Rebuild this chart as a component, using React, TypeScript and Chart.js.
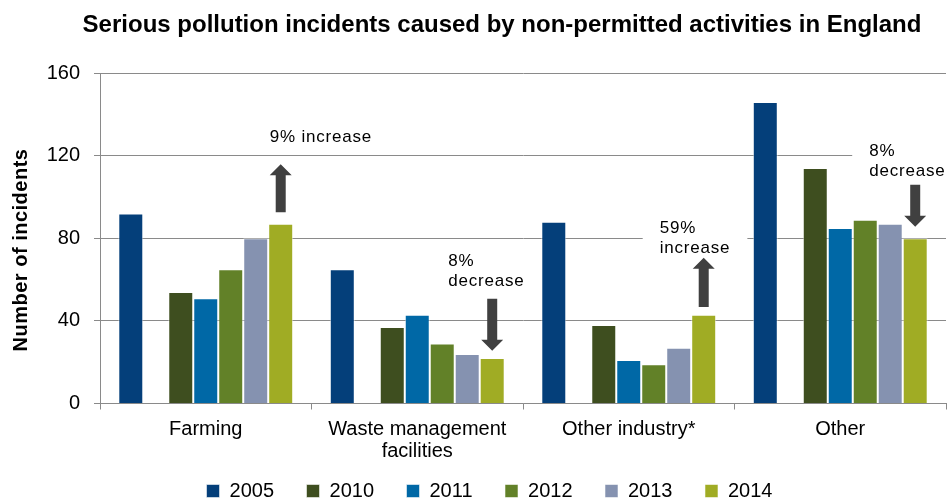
import React, { useEffect, useRef } from 'react';
import { Chart, registerables } from 'chart.js';

Chart.register(...registerables);

const TITLE = 'Serious pollution incidents caused by non-permitted activities in England';
const Y_TITLE = 'Number of incidents';
const CATEGORIES = [['Farming'], ['Waste management', 'facilities'], ['Other industry*'], ['Other']];
const YEARS = ['2005', '2010', '2011', '2012', '2013', '2014'];
const Y_TICKS = [0, 40, 80, 120, 160];

const V2005 = [92, 65, 88, 146];
const V2010 = [54, 37, 38, 114];
const V2011 = [51, 43, 21, 85];
const V2012 = [65, 29, 19, 89];
const V2013 = [80, 24, 27, 87];
const V2014 = [87, 22, 43, 80];

const CHANGE_TEXT = [['9% increase'], ['8%', 'decrease'], ['59%', 'increase'], ['8%', 'decrease']];
const CHANGE_DIR = ['up', 'down', 'up', 'down'];

// annotation placement (y in data units, dx in px from the 2014 bar centre)
const NOTE_LAYOUT = [
  { textY: 128.9, dx: -11, from: 92.6, to: 115.8 },
  { textY: 68.6, dx: -44, from: 50.7, to: 25.5 },
  { textY: 84.6, dx: -44, from: 46.7, to: 70.5 },
  { textY: 122.1, dx: -46, from: 105.9, to: 85.6 },
];

const COLORS = ['#043F7A', '#3E4E1F', '#0068A6', '#628128', '#8592B0', '#A0AC24'];
const FONT = '"Liberation Sans", Arial, sans-serif';
const GRID = '#8A8A8A';

const notesPlugin = {
  id: 'notes',
  beforeDatasetsDraw(chart: any) {
    const ctx = chart.ctx;
    const y = chart.scales.y;
    const meta = chart.getDatasetMeta(chart.data.datasets.length - 1);
    ctx.save();
    ctx.font = `17px ${FONT}`;
    (ctx as any).letterSpacing = '0.8px';
    CHANGE_TEXT.forEach((lines, i) => {
      const bx = meta.data[i].x;
      const L = NOTE_LAYOUT[i];
      const left = bx + L.dx;
      const w = Math.max(...lines.map((t) => ctx.measureText(t).width));
      const top = y.getPixelForValue(L.textY) - 12;
      const bottom = y.getPixelForValue(L.textY) + (lines.length - 1) * 20 + 12;
      ctx.fillStyle = '#ffffff';
      ctx.fillRect(left - 17, top, w + 34, bottom - top);
    });
    ctx.restore();
  },
  afterDatasetsDraw(chart: any) {
    const ctx = chart.ctx;
    const y = chart.scales.y;
    const meta = chart.getDatasetMeta(chart.data.datasets.length - 1);
    ctx.save();
    CHANGE_TEXT.forEach((lines, i) => {
      const bx = meta.data[i].x;
      const L = NOTE_LAYOUT[i];
      ctx.font = `17px ${FONT}`;
      (ctx as any).letterSpacing = '0.8px';
      ctx.fillStyle = '#000000';
      ctx.textAlign = 'left';
      ctx.textBaseline = 'middle';
      lines.forEach((t, k) => {
        ctx.fillText(t, bx + L.dx, y.getPixelForValue(L.textY) + k * 20);
      });
      const y0 = y.getPixelForValue(L.from);
      const y1 = y.getPixelForValue(L.to);
      const dir = CHANGE_DIR[i] === 'up' ? -1 : 1;
      const head = 11;
      const shaftHalf = 5;
      const headHalf = 11;
      const neck = y1 - dir * head;
      ctx.fillStyle = '#404040';
      ctx.beginPath();
      ctx.moveTo(bx - shaftHalf, y0);
      ctx.lineTo(bx - shaftHalf, neck);
      ctx.lineTo(bx - headHalf, neck);
      ctx.lineTo(bx, y1);
      ctx.lineTo(bx + headHalf, neck);
      ctx.lineTo(bx + shaftHalf, neck);
      ctx.lineTo(bx + shaftHalf, y0);
      ctx.closePath();
      ctx.fill();
    });
    ctx.restore();
  },
  afterDraw(chart: any) {
    const ctx = chart.ctx;
    ctx.save();
    ctx.fillStyle = '#000000';
    ctx.font = `bold 24px ${FONT}`;
    ctx.textAlign = 'center';
    ctx.textBaseline = 'middle';
    ctx.fillText(TITLE, 502, 25);
    ctx.font = `bold 20px ${FONT}`;
    (ctx as any).letterSpacing = '0.5px';
    ctx.translate(21, 250);
    ctx.rotate(-Math.PI / 2);
    ctx.fillText(Y_TITLE, 0, 0);
    ctx.restore();
  },
};

export default function App() {
  const ref = useRef<HTMLCanvasElement>(null);
  useEffect(() => {
    document.body.style.margin = '0';
    const series = [V2005, V2010, V2011, V2012, V2013, V2014];
    const datasets: any[] = [];
    series.forEach((data, i) => {
      datasets.push({
        label: YEARS[i],
        data,
        backgroundColor: COLORS[i],
        borderColor: 'rgba(255,255,255,0.55)',
        borderWidth: 1,
        borderSkipped: 'bottom',
      });
      if (i === 0) {
        datasets.push({ label: '', data: CATEGORIES.map(() => null), backgroundColor: 'transparent' });
      }
    });
    const chart = new Chart(ref.current!, {
      type: 'bar',
      data: { labels: CATEGORIES, datasets },
      plugins: [notesPlugin],
      options: {
        animation: false,
        responsive: false,
        devicePixelRatio: 1,
        layout: { padding: { top: 73, left: 33, right: 4, bottom: -9 } },
        datasets: { bar: { categoryPercentage: 0.827, barPercentage: 1 } },
        plugins: {
          title: { display: false },
          tooltip: { enabled: false },
          legend: {
            position: 'bottom',
            labels: {
              boxWidth: 13,
              boxHeight: 13,
              padding: 32.5,
              color: '#000',
              font: { size: 20, family: FONT },
              filter: (item: any) => item.text !== '',
            },
          },
        },
        scales: {
          x: {
            grid: { display: true, drawOnChartArea: false, drawTicks: true, tickLength: 6, color: GRID, offset: true },
            border: { color: GRID },
            ticks: {
              color: '#000',
              font: { size: 20, family: FONT, lineHeight: 1.1 },
              padding: 9,
              maxRotation: 0,
              autoSkip: false,
            },
            afterFit: (s: any) => {
              s.height = 45;
              s._computeLabelArea = () => undefined;
            },
          },
          y: {
            min: 0,
            max: 160,
            grid: { color: GRID, tickLength: 6 },
            border: { color: GRID },
            ticks: { color: '#000', font: { size: 20, family: FONT }, padding: 14 },
            afterBuildTicks: (s: any) => { s.ticks = Y_TICKS.map((v) => ({ value: v })); },
            afterFit: (s: any) => { s.width = 67; },
          },
        },
      },
    });
    return () => chart.destroy();
  }, []);
  return (
    <div style={{ width: 950, height: 502 }}>
      <canvas ref={ref} width={950} height={502} />
    </div>
  );
}
